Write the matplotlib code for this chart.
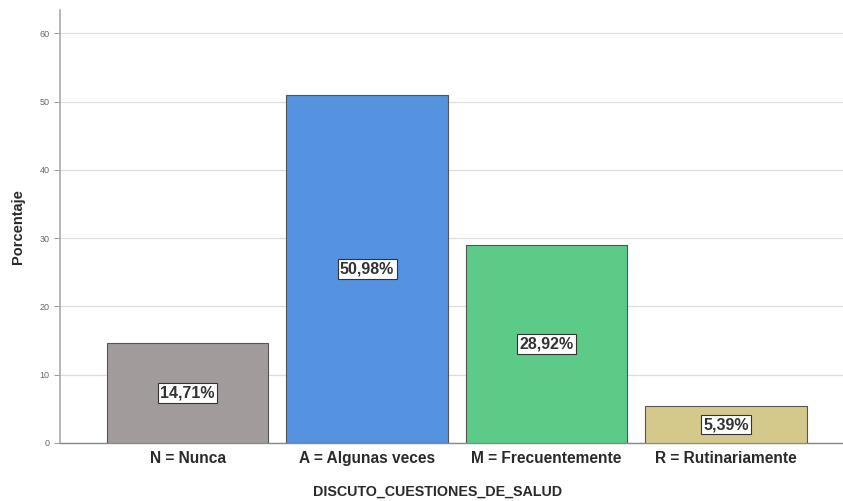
import matplotlib
matplotlib.use("Agg")
import matplotlib.pyplot as plt

categorias = ["N = Nunca", "A = Algunas veces", "M = Frecuentemente", "R = Rutinariamente"]
porcentajes = [14.71, 50.98, 28.92, 5.39]
etiquetas = ["14,71%", "50,98%", "28,92%", "5,39%"]
colores = ["#a19b9b", "#5592e0", "#5ccb87", "#d4c98b"]

plt.rcParams['font.family'] = ['Liberation Sans', 'DejaVu Sans']

fig = plt.figure(figsize=(8.43, 5.01), dpi=100)
ax = fig.add_axes([60/843, 58/501, 783/843, 433/501])

x = list(range(len(categorias)))
ax.bar(x, porcentajes, width=0.9, color=colores, edgecolor="#555555", linewidth=0.8, zorder=3)

for xi, v, t in zip(x, porcentajes, etiquetas):
    ax.text(xi, v / 2, t, ha="center", va="center", fontsize=11.5, fontweight="bold",
            color="#333333", zorder=4,
            bbox=dict(boxstyle="square,pad=0.15", fc="white", ec="#333333", lw=0.8))

ax.set_xlim(-0.71, 3.65)
ax.set_ylim(0, 63.4)
ax.set_yticks([0, 10, 20, 30, 40, 50, 60])
ax.tick_params(axis="y", labelsize=6.5, colors="#888888", length=4, width=0.6, labelcolor="#666666")
ax.tick_params(axis="x", length=0, labelsize=11.2, pad=6)
ax.set_xticks(x)
ax.set_xticklabels(categorias, color="#2a2a2a", fontweight="bold")
ax.grid(axis="y", color="#dddddd", linewidth=0.9, zorder=0)

for s in ["top", "right"]:
    ax.spines[s].set_visible(False)
ax.spines["left"].set_color("#aaaaaa")
ax.spines["left"].set_linewidth(1.2)
ax.spines["bottom"].set_color("#888888")
ax.spines["bottom"].set_linewidth(1.0)

ax.set_ylabel("Porcentaje", fontsize=10.5, color="#2a2a2a", fontweight="bold")
ax.yaxis.set_label_coords(-35/783, 0.5)
ax.set_xlabel("DISCUTO_CUESTIONES_DE_SALUD", fontsize=10.3, color="#2a2a2a", fontweight="bold")
ax.xaxis.set_label_coords((438-60)/783, -0.096)

fig.savefig("out.png", dpi=100)
